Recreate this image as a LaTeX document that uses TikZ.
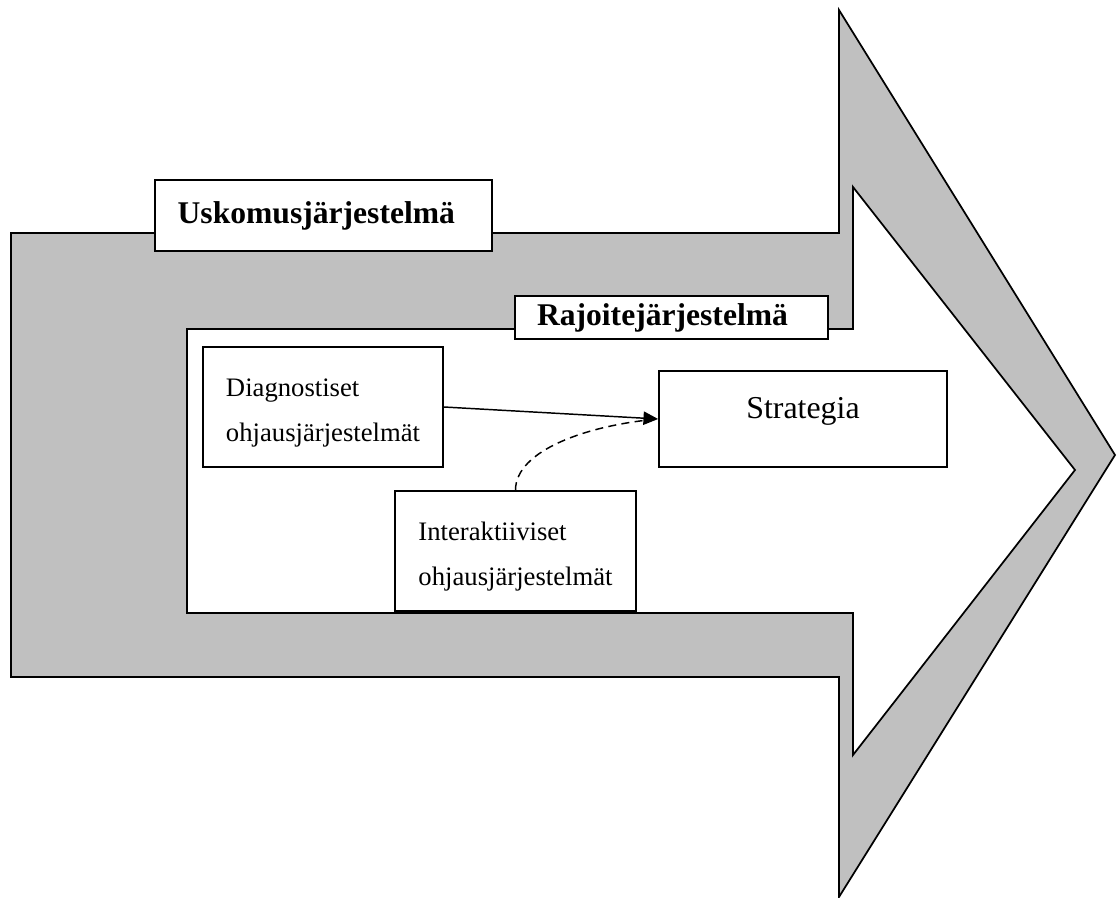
\documentclass[tikz,border=0pt]{standalone}
\usepackage{fontspec}
\setmainfont{Liberation Serif}
\usetikzlibrary{arrows.meta}
\definecolor{bandgray}{HTML}{C0C0C0}
\newcommand{\topgap}{\rule{0pt}{23pt}}

\begin{document}
\begin{tikzpicture}[x=0.75pt,y=-0.75pt,line width=1.3pt,
  titlebox/.style={draw,fill=white,font=\fontsize{23.7}{28}\selectfont\bfseries,align=left,inner xsep=17pt,inner ysep=0pt},
  ctrlbox/.style={draw,fill=white,font=\fontsize{20}{33.75}\selectfont,align=left,minimum width=180pt,minimum height=90pt,inner sep=0pt}]
\useasboundingbox (0,0) rectangle (1118,898);
% grey band and white inner arrow
\filldraw[fill=bandgray] (11,233)--(839,233)--(839,10)--(1115,455)--(839,897)--(839,677)--(11,677)--cycle;
\filldraw[fill=white] (187,329)--(853,329)--(853,187)--(1075,470)--(853,755)--(853,613)--(187,613)--cycle;
\node[titlebox,text width=218.75pt,minimum height=53.25pt] (usko) at (323.5,215.5) {Uskomusjärjestelmä};
\node[titlebox,inner xsep=16.5pt,text width=201.75pt,minimum height=32.25pt] (rajo) at (671.5,317.5) {Rajoitejärjestelmä};
\node[ctrlbox] (diag) at (323,407) {\topgap Diagnostiset\\ohjausjärjestelmät};
\node[ctrlbox,minimum width=180.75pt] (inter) at (515.5,551) {\topgap Interaktiiviset\\ohjausjärjestelmät};
\node[draw,fill=white,minimum width=216pt,minimum height=72pt,font=\fontsize{23.9}{28}\selectfont,text height=16pt,text depth=16pt] (strat) at (803,419) {Strategia};
\draw[dash pattern=on 6pt off 4pt,line width=1.1pt] (inter.north) .. controls +(0,-40) and +(-70,6) .. (strat.west);
\draw[line width=1.1pt,-{Triangle[length=11pt,width=10pt]}] (diag.east) -- (strat.west);
\end{tikzpicture}
\end{document}
